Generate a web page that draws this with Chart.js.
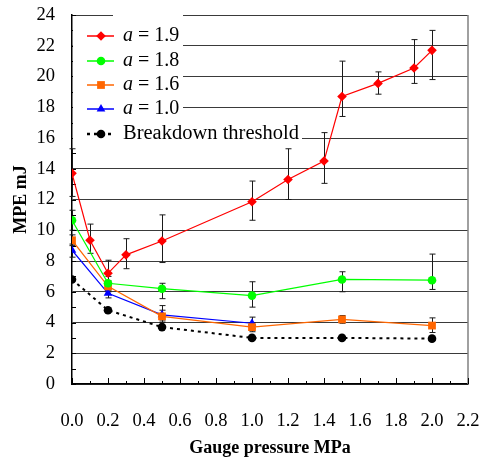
<!DOCTYPE html>
<html><head><meta charset="utf-8">
<script src="https://cdn.jsdelivr.net/npm/chart.js@4"></script>
<style>html,body{margin:0;padding:0;background:#fff}</style>
</head><body>
<canvas id="c" width="481" height="459"></canvas>
<script>
// ---- data ----
const aValues = ['1.9', '1.8', '1.6', '1.0'];

const pressureA19 = [0.0, 0.1, 0.2, 0.3, 0.5, 1.0, 1.2, 1.4, 1.5, 1.7, 1.9, 2.0];
const mpeA19      = [13.7, 9.35, 7.2, 8.4, 9.3, 11.85, 13.3, 14.5, 18.7, 19.55, 20.55, 21.7];
const mpeA19High  = [15.3, 10.4, 8.05, 9.45, 11.0, 13.2, 15.3, 16.35, 21.0, 20.3, 22.4, 23.0];
const mpeA19Low   = [12.2, 8.5, 6.4, 7.5, 7.9, 10.65, 12.0, 13.05, 17.4, 18.85, 19.55, 19.8];

const pressureA18 = [0.0, 0.2, 0.5, 1.0, 1.5, 2.0];
const mpeA18      = [10.65, 6.55, 6.2, 5.75, 6.8, 6.75];
const mpeA18High  = [11.3, 7.0, 6.55, 6.65, 7.3, 8.45];
const mpeA18Low   = [10.0, 6.1, 5.55, 5.0, 6.0, 6.15];

const pressureA16 = [0.0, 0.2, 0.5, 1.0, 1.5, 2.0];
const mpeA16      = [9.35, 6.35, 4.4, 3.7, 4.2, 3.8];
const mpeA16High  = [9.7, 6.7, 4.8, 4.0, 4.45, 4.3];
const mpeA16Low   = [9.0, 6.0, 4.0, 3.4, 3.95, 3.35];

const pressureA10 = [0.0, 0.2, 0.5, 1.0];
const mpeA10      = [8.7, 5.9, 4.5, 3.95];
const mpeA10High  = [9.1, 6.2, 5.1, 4.35];
const mpeA10Low   = [8.25, 5.6, 4.1, 3.6];

const pressureThreshold = [0.0, 0.2, 0.5, 1.0, 1.5, 2.0];
const mpeThreshold      = [6.8, 4.8, 3.7, 3.0, 3.0, 2.95];

const thresholdLabel = 'Breakdown threshold';
const xTitle = 'Gauge pressure MPa';
const yTitle = 'MPE mJ';

// ---- build ----
const SERIF = '"Liberation Serif","Times New Roman",serif';
const pts = (xs, ys) => xs.map((x, i) => ({x: x, y: ys[i]}));

function series(label, xs, ys, hi, lo, color, style, radius, dash) {
  return {
    label: label,
    data: pts(xs, ys),
    errHigh: hi, errLow: lo,
    borderColor: color, backgroundColor: color,
    pointBackgroundColor: color, pointBorderColor: color,
    pointStyle: style, pointRadius: radius, pointBorderWidth: 0,
    borderWidth: dash ? 2 : 1.2, borderDash: dash || [],
    tension: 0, fill: false
  };
}

const datasets = [
  series('a = ' + aValues[0], pressureA19, mpeA19, mpeA19High, mpeA19Low, '#ff0000', 'rectRot', 4.8),
  series('a = ' + aValues[1], pressureA18, mpeA18, mpeA18High, mpeA18Low, '#00ff00', 'circle', 4.3),
  series('a = ' + aValues[2], pressureA16, mpeA16, mpeA16High, mpeA16Low, '#ff6600', 'rect', 5.5),
  series('a = ' + aValues[3], pressureA10, mpeA10, mpeA10High, mpeA10Low, '#0000ff', 'triangle', 5),
  series(thresholdLabel, pressureThreshold, mpeThreshold, null, null, '#000000', 'circle', 4.3, [3, 4])
];

const errorBars = {
  id: 'errorBars',
  beforeDatasetsDraw(chart) {
    const {ctx, scales: {x, y}} = chart;
    ctx.save();
    ctx.strokeStyle = '#1a1a1a';
    ctx.lineWidth = 1;
    chart.data.datasets.forEach(ds => {
      if (!ds.errHigh) return;
      ds.data.forEach((p, i) => {
        const px = Math.round(x.getPixelForValue(p.x)) + 0.5;
        const yh = y.getPixelForValue(ds.errHigh[i]);
        const yl = y.getPixelForValue(ds.errLow[i]);
        ctx.beginPath();
        ctx.moveTo(px, yh); ctx.lineTo(px, yl);
        ctx.moveTo(px - 3, yh); ctx.lineTo(px + 3, yh);
        ctx.moveTo(px - 3, yl); ctx.lineTo(px + 3, yl);
        ctx.stroke();
      });
    });
    ctx.restore();
  }
};

const frame = {
  id: 'frame',
  beforeDatasetsDraw(chart) {
    const {ctx, chartArea: a, scales: {x, y}} = chart;
    ctx.save();
    ctx.strokeStyle = '#808080';
    ctx.lineWidth = 1.5;
    ctx.beginPath(); ctx.moveTo(a.right, a.top); ctx.lineTo(a.right, a.bottom); ctx.stroke();
    ctx.strokeStyle = '#000';
    ctx.lineWidth = 1;
    ctx.beginPath();
    for (let k = 0; k <= 22; k++) {
      const px = Math.round(x.getPixelForValue(k / 10)) + 0.5;
      const len = (k % 2 === 0) ? 6 : 3;
      ctx.moveTo(px, a.bottom); ctx.lineTo(px, a.bottom - len);
    }
    for (let k = 0; k <= 24; k++) {
      const py = Math.round(y.getPixelForValue(k)) + 0.5;
      ctx.moveTo(a.left, py); ctx.lineTo(a.left + 4, py);
    }
    ctx.stroke();
    ctx.restore();
  }
};

const insideLegend = {
  id: 'insideLegend',
  afterDatasetsDraw(chart) {
    const {ctx, chartArea: a} = chart;
    ctx.save();
    ctx.fillStyle = '#fff';
    ctx.fillRect(a.left + 1, a.top + 1, 183 - a.left - 1, 110);
    ctx.fillRect(113, a.top - 3, 70, 8);
    ctx.fillRect(a.left + 1, 124, 302 - a.left - 1, 22);
    const rowY = [36, 61, 85, 109, 134];
    ctx.textBaseline = 'middle';
    chart.data.datasets.forEach((ds, i) => {
      const yy = rowY[i];
      ctx.strokeStyle = ds.borderColor;
      ctx.lineWidth = ds.borderDash.length ? 2.5 : 1.5;
      ctx.setLineDash(ds.borderDash);
      ctx.beginPath(); ctx.moveTo(87, yy); ctx.lineTo(114, yy); ctx.stroke();
      ctx.setLineDash([]);
      ctx.fillStyle = ds.borderColor;
      Chart.helpers.drawPoint(ctx, {pointStyle: ds.pointStyle, rotation: 0, radius: ds.pointRadius, borderWidth: 0}, 101, yy);
      ctx.fillStyle = '#000';
      let tx = 123;
      if (i < 4) {
        ctx.font = 'italic 20px ' + SERIF;
        ctx.fillText('a', tx, yy);
        tx += ctx.measureText('a').width;
        ctx.font = '20px ' + SERIF;
        ctx.fillText(' = ' + aValues[i], tx, yy);
      } else {
        ctx.font = '20.5px ' + SERIF;
        ctx.fillText(ds.label, tx, yy);
      }
    });
    ctx.restore();
  }
};

new Chart(document.getElementById('c'), {
  type: 'line',
  data: {datasets: datasets},
  options: {
    responsive: false,
    devicePixelRatio: 1,
    animation: false,
    layout: {padding: {top: 15, right: 13, bottom: 0, left: 0}},
    plugins: {legend: {display: false}, tooltip: {enabled: false}},
    scales: {
      x: {
        type: 'linear', min: 0, max: 2.2,
        afterFit(s) { s.height = 75; s.paddingLeft = 0; s.paddingRight = 0; },
        grid: {display: false, drawTicks: false},
        border: {display: true, color: '#000', width: 1.5},
        ticks: {stepSize: 0.2, autoSkip: false, maxRotation: 0, padding: 26,
                color: '#000', font: {family: SERIF, size: 18.5},
                callback: v => Number(v).toFixed(1)},
        title: {display: true, text: xTitle, color: '#000',
                font: {family: SERIF, size: 18, weight: 'bold'}, padding: {top: 0, bottom: 0}}
      },
      y: {
        min: 0, max: 24,
        afterFit(s) { s.width = 72; s.paddingTop = 0; s.paddingBottom = 0; },
        grid: {color: '#3a3a3a', lineWidth: 1, drawTicks: false},
        border: {display: true, color: '#000', width: 1.5},
        ticks: {stepSize: 2, padding: 17, color: '#000', font: {family: SERIF, size: 18.5}},
        title: {display: true, text: yTitle, color: '#000',
                font: {family: SERIF, size: 18, weight: 'bold'}, padding: {top: 11, bottom: 0}}
      }
    }
  },
  plugins: [errorBars, frame, insideLegend]
});
</script>
</body></html>
